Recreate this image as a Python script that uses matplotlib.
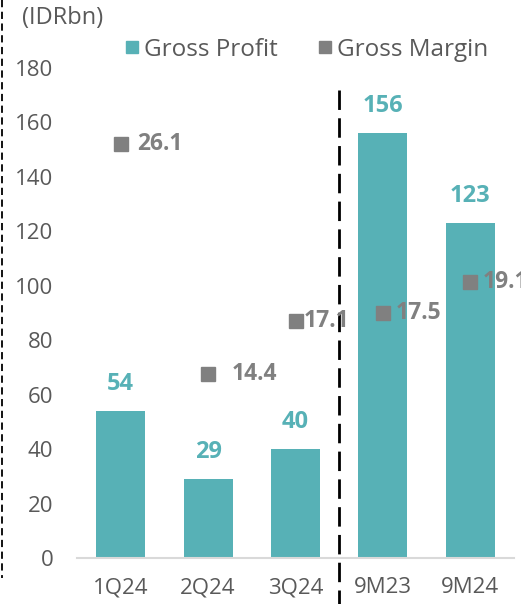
import matplotlib
matplotlib.use("Agg")
import matplotlib.pyplot as plt
from matplotlib.lines import Line2D

plt.rcParams["font.family"] = ["Open Sans", "DejaVu Sans"]

periods = ["1Q24", "2Q24", "3Q24", "9M23", "9M24"]
gross_profit = [54, 29, 40, 156, 123]
gross_margin = [26.1, 14.4, 17.1, 17.5, 19.1]
margin_labels = ["26.1", "14.4", "17.1", "17.5", "19.1"]
# horizontal offset of each margin label from its marker (points)
label_dx = [12, 17, 6, 9, 9]

teal = "#57B1B6"
grey = "#808080"
text_grey = "#595959"

fig = plt.figure(figsize=(5.21, 6.04), dpi=100)
ax = fig.add_axes([77 / 521, 1 - 558 / 604, 437 / 521, 490 / 604])

x = list(range(len(periods)))
bars = ax.bar(x, gross_profit, width=0.56, color=teal, zorder=2)
for xi, v in zip(x, gross_profit):
    ax.annotate(str(v), (xi, v), xytext=(0, 11), textcoords="offset points",
                ha="center", va="bottom", color=teal, fontsize=17, fontweight="bold")

ax.set_xlim(-0.5, 4.5)
ax.set_ylim(0, 180)
ax.set_yticks(range(0, 181, 20))
ax.set_xticks(x)
ax.set_xticklabels(periods)
ax.tick_params(axis="both", length=0, labelsize=16, labelcolor=text_grey)
ax.tick_params(axis="y", pad=17)
ax.tick_params(axis="x", pad=14)
for s in ["top", "right", "left"]:
    ax.spines[s].set_visible(False)
ax.spines["bottom"].set_color("#D9D9D9")
ax.spines["bottom"].set_linewidth(1.5)

# divider between quarterly and 9M figures
ax.plot([2.5, 2.5], [172, -17], color="black", lw=2, linestyle=(0, (7, 3)),
        clip_on=False, zorder=5)

ax2 = ax.twinx()
ax2.set_ylim(5, 30)
ax2.axis("off")
ax2.plot(x, gross_margin, linestyle="none", marker="s", markersize=10,
         color=grey, zorder=3)
for xi, v, lab, dx in zip(x, gross_margin, margin_labels, label_dx):
    ax2.annotate(lab, (xi, v), xytext=(dx, 0), textcoords="offset points",
                 ha="left", va="center", color=grey, fontsize=16.5,
                 fontweight="bold", annotation_clip=False)

handles = [
    Line2D([], [], linestyle="none", marker="s", markersize=9, color=teal),
    Line2D([], [], linestyle="none", marker="s", markersize=9, color=grey),
]
ax.legend(handles, ["Gross Profit", "Gross Margin"], loc="center",
          bbox_to_anchor=(0.526, 1.037), ncol=2, frameon=False, fontsize=17.5,
          handlelength=0.5, handletextpad=0.25, columnspacing=1.7,
          labelcolor=text_grey, borderpad=0)

fig.text(22 / 521, 1 - 18 / 604, "(IDRbn)", fontsize=17, color=text_grey,
         ha="left", va="center")

# dashed frame edge on the left
fig.add_artist(Line2D([1.5 / 521, 1.5 / 521], [1, 1 - 578 / 604],
                      transform=fig.transFigure, color="black", lw=1.3,
                      linestyle=(0, (4, 2.5))))

fig.savefig("out.png", dpi=100)
